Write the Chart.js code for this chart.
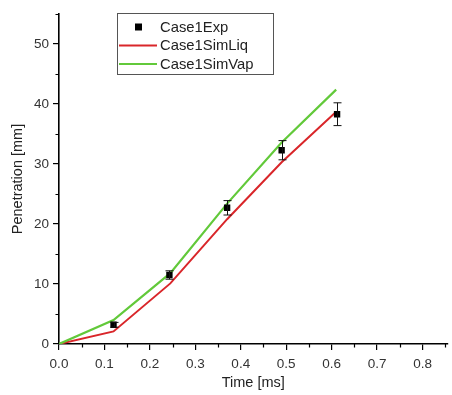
<!DOCTYPE html>
<html>
<head>
<meta charset="utf-8">
<script src="https://cdn.jsdelivr.net/npm/chart.js@4/dist/chart.umd.min.js"></script>
<style>
html,body{margin:0;padding:0;background:#fff;}
#wrap{width:452px;height:395px;position:relative;}
</style>
</head>
<body>
<div id="wrap"><canvas id="c"></canvas></div>
<script>
// Data
const simTime = [0, 0.12, 0.245, 0.37, 0.49, 0.61];
const simLiq = [0, 2.1, 10.1, 20.8, 30.3, 38.7];
const simVap = [0, 4.0, 11.8, 23.4, 33.6, 42.4];
const expTime = [0.12, 0.243, 0.37, 0.49, 0.612];
const expVal = [3.2, 11.5, 22.7, 32.3, 38.3];
const expErr = [0.4, 0.7, 1.2, 1.6, 1.9];
const xTicks = [0, 0.1, 0.2, 0.3, 0.4, 0.5, 0.6, 0.7, 0.8];
const yTicks = [0, 10, 20, 30, 40, 50];
const seriesNames = ['Case1Exp', 'Case1SimLiq', 'Case1SimVap'];

const toPts = (xs, ys) => xs.map((x, i) => ({x: x, y: ys[i]}));

const minorTicks = {
  id: 'minorTicks',
  afterDraw(chart) {
    const ctx = chart.ctx, xs = chart.scales.x, ys = chart.scales.y;
    ctx.save();
    ctx.strokeStyle = '#000';
    ctx.lineWidth = 1.2;
    ctx.beginPath();
    for (let v = 0.05; v < xs.max; v += 0.1) {
      const px = Math.round(xs.getPixelForValue(v)) + 0.5;
      ctx.moveTo(px, ys.bottom); ctx.lineTo(px, ys.bottom + 3.5);
    }
    for (let v = 5; v <= ys.max + 0.01; v += 10) {
      const py = Math.round(ys.getPixelForValue(v)) + 0.5;
      ctx.moveTo(xs.left, py); ctx.lineTo(xs.left - 3.5, py);
    }
    ctx.stroke();
    ctx.restore();
  }
};

const errorBars = {
  id: 'errorBars',
  afterDatasetsDraw(chart) {
    const ctx = chart.ctx, xs = chart.scales.x, ys = chart.scales.y;
    ctx.save();
    ctx.strokeStyle = '#111';
    ctx.lineWidth = 1;
    ctx.beginPath();
    expTime.forEach((t, i) => {
      const px = Math.round(xs.getPixelForValue(t)) + 0.5;
      const top = ys.getPixelForValue(expVal[i] + expErr[i]);
      const bot = ys.getPixelForValue(expVal[i] - expErr[i]);
      ctx.moveTo(px, top); ctx.lineTo(px, bot);
      ctx.moveTo(px - 4, top); ctx.lineTo(px + 4, top);
      ctx.moveTo(px - 4, bot); ctx.lineTo(px + 4, bot);
    });
    ctx.stroke();
    ctx.restore();
  }
};

const boxLegend = {
  id: 'boxLegend',
  afterDraw(chart) {
    const ctx = chart.ctx;
    const ds = chart.data.datasets;
    const x0 = 117, y0 = 13, w = 156, h = 61;
    ctx.save();
    ctx.fillStyle = '#fff';
    ctx.fillRect(x0, y0, w, h);
    ctx.strokeStyle = '#555';
    ctx.lineWidth = 1;
    ctx.strokeRect(x0 + 0.5, y0 + 0.5, w, h);
    ctx.font = '14.8px "Liberation Sans", Arial, sans-serif';
    ctx.textBaseline = 'middle';
    const rows = [27, 45.5, 64];
    ds.forEach((d, i) => {
      const cy = rows[i];
      if (i === 0) {
        ctx.fillStyle = '#000';
        ctx.fillRect(135, cy - 3.5, 7, 7);
      } else {
        ctx.strokeStyle = d.borderColor;
        ctx.lineWidth = 2;
        ctx.beginPath();
        ctx.moveTo(119, cy); ctx.lineTo(157, cy);
        ctx.stroke();
      }
      ctx.fillStyle = '#222';
      ctx.fillText(d.label, 160, cy + 0.5);
    });
    ctx.restore();
  }
};

new Chart(document.getElementById('c'), {
  type: 'scatter',
  data: {
    datasets: [
      {
        label: seriesNames[0],
        data: toPts(expTime, expVal),
        pointStyle: 'rect',
        pointRadius: 4.5,
        backgroundColor: '#000',
        borderColor: '#000',
        borderWidth: 0,
        showLine: false,
        order: 0
      },
      {
        label: seriesNames[1],
        data: toPts(simTime, simLiq),
        showLine: true,
        borderColor: '#d9262a',
        borderWidth: 2,
        pointRadius: 0,
        fill: false,
        order: 2
      },
      {
        label: seriesNames[2],
        data: toPts(simTime, simVap),
        showLine: true,
        borderColor: '#62c93a',
        borderWidth: 2.2,
        pointRadius: 0,
        fill: false,
        order: 1
      }
    ]
  },
  options: {
    responsive: true,
    maintainAspectRatio: false,
    animation: false,
    devicePixelRatio: 1,
    layout: {padding: {top: 14, right: 0, left: 0, bottom: 0}},
    plugins: {legend: {display: false}, tooltip: {enabled: false}},
    scales: {
      x: {
        type: 'linear',
        min: 0,
        max: 0.855,
        afterBuildTicks: s => { s.ticks = xTicks.map(v => ({value: v})); },
        afterFit: s => { s.height = 51; },
        ticks: {
          color: '#333',
          font: {size: 13.5, family: '"Liberation Sans", Arial, sans-serif'},
          padding: 6,
          maxRotation: 0,
          autoSkip: false,
          callback: v => v.toFixed(1)
        },
        grid: {drawOnChartArea: false, drawTicks: true, tickLength: 6, color: '#000', lineWidth: 1.2},
        border: {display: true, color: '#000', width: 1.6},
        title: {
          display: true,
          text: 'Time [ms]',
          color: '#222',
          font: {size: 14.5, family: '"Liberation Sans", Arial, sans-serif'},
          padding: {top: 0, bottom: 3}
        }
      },
      y: {
        type: 'linear',
        min: 0,
        max: 55,
        afterBuildTicks: s => { s.ticks = yTicks.map(v => ({value: v})); },
        afterFit: s => { s.width = 59; },
        ticks: {
          color: '#333',
          font: {size: 13.5, family: '"Liberation Sans", Arial, sans-serif'},
          padding: 4,
          autoSkip: false
        },
        grid: {drawOnChartArea: false, drawTicks: true, tickLength: 6, color: '#000', lineWidth: 1.2},
        border: {display: true, color: '#000', width: 1.6},
        title: {
          display: true,
          text: 'Penetration [mm]',
          color: '#222',
          font: {size: 14.5, family: '"Liberation Sans", Arial, sans-serif'},
          padding: {top: 9, bottom: 0}
        }
      }
    }
  },
  plugins: [minorTicks, errorBars, boxLegend]
});
</script>
</body>
</html>
